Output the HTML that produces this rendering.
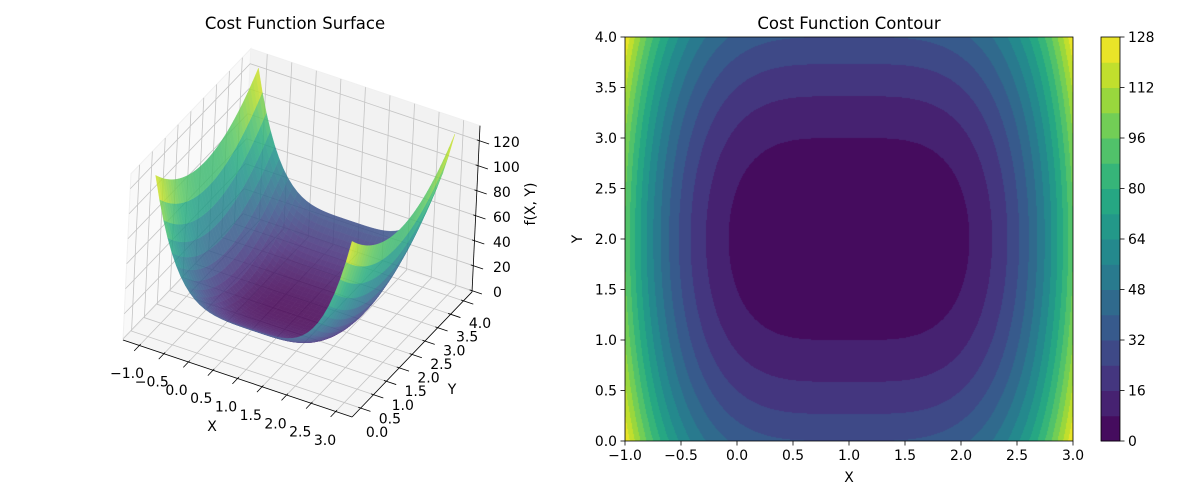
<!DOCTYPE html>
<html><head><meta charset="utf-8">
<style>
html,body{margin:0;padding:0;background:#fff;}
#root{position:relative;width:1200px;height:500px;overflow:hidden;font-family:"DejaVu Sans","Liberation Sans",sans-serif;}
svg{position:absolute;left:0;top:0;}
#contour-canvas{position:absolute;left:625px;top:37px;}
</style></head>
<body>
<div id="root">
<svg id="s3d" width="1200" height="500"></svg>
<canvas id="contour-canvas" width="448" height="404"></canvas>
<svg id="s2d" width="1200" height="500"></svg>
</div>
<script>
// ---- data ----
const xTicks=[-1.0,-0.5,0.0,0.5,1.0,1.5,2.0,2.5,3.0];
const yTicks=[0.0,0.5,1.0,1.5,2.0,2.5,3.0,3.5,4.0];
const zTicks=[0,20,40,60,80,100,120];
const cbTicks=[0,16,32,48,64,80,96,112,128];
const levels=[0,8,16,24,32,40,48,56,64,72,80,88,96,104,112,120,128];
const coefX=[6];   // weight of (x-1)^4
const coefY=[8];   // weight of (y-2)^2
const center=[1,2];
const xRange=[-1,3], yRange=[0,4];
const NS="http://www.w3.org/2000/svg";
function f(x,y){return coefX[0]*Math.pow(x-center[0],4)+coefY[0]*Math.pow(y-center[1],2);}
const VIR=[[68,1,84],[71,45,123],[59,82,139],[44,114,142],[33,145,140],[40,174,128],[94,201,98],[173,220,48],[253,231,37]];
function vir(t){t=Math.max(0,Math.min(1,t));const s=t*8;const i=Math.min(7,Math.floor(s));const r=s-i;const a=VIR[i],b=VIR[i+1];
return `rgb(${Math.round(a[0]+(b[0]-a[0])*r)},${Math.round(a[1]+(b[1]-a[1])*r)},${Math.round(a[2]+(b[2]-a[2])*r)})`;}
function el(svg,tag,attrs,name,inter){const e=document.createElementNS(NS,tag);for(const k in attrs)e.setAttribute(k,attrs[k]);


svg.appendChild(e);return e;}
function txt(svg,x,y,s,size,anchor,name,extra){const t=el(svg,'text',Object.assign({x:x,y:y,'font-size':size,'text-anchor':anchor||'middle',fill:'#000','font-family':'DejaVu Sans, Liberation Sans, sans-serif'},extra||{}),name,false);t.textContent=s;return t;}

// ---- 3D surface ----
const s3=document.getElementById('s3d');
const C=[123,340], ex=[49.1,16.5], ey=[25.7,-26.8], ez=[0.06,-1.25];
const x0=-1.333,x1=3.333,y0=-0.333,y1=4.333,z0=-1,z1=132;
function P(x,y,z){return [C[0]+(x-x0)*ex[0]+(y-y0)*ey[0]+(z-z0)*ez[0], C[1]+(x-x0)*ex[1]+(y-y0)*ey[1]+(z-z0)*ez[1]];}
function poly(pts){return pts.map(p=>p[0].toFixed(2)+','+p[1].toFixed(2)).join(' ');}
el(s3,'polygon',{points:poly([P(x0,y0,z0),P(x0,y1,z0),P(x0,y1,z1),P(x0,y0,z1)]),fill:'#f9f9f9',stroke:'#f0f0f0'},'left-pane',false);
el(s3,'polygon',{points:poly([P(x0,y1,z0),P(x1,y1,z0),P(x1,y1,z1),P(x0,y1,z1)]),fill:'#f2f2f2',stroke:'#f0f0f0'},'back-pane',false);
el(s3,'polygon',{points:poly([P(x0,y0,z0),P(x1,y0,z0),P(x1,y1,z0),P(x0,y1,z0)]),fill:'#f5f5f5',stroke:'#f0f0f0'},'floor-pane',false);
const gc='#c4c4c4';
xTicks.forEach(x=>{let a=P(x,y0,z0),b=P(x,y1,z0),c=P(x,y1,z1);
el(s3,'polyline',{points:poly([a,b,c]),fill:'none',stroke:gc,'stroke-width':0.8},'x-gridline',false);});
yTicks.forEach(y=>{let a=P(x1,y,z0),b=P(x0,y,z0),c=P(x0,y,z1);
el(s3,'polyline',{points:poly([a,b,c]),fill:'none',stroke:gc,'stroke-width':0.8},'y-gridline',false);});
zTicks.forEach(z=>{let a=P(x0,y0,z),b=P(x0,y1,z),c=P(x1,y1,z);
el(s3,'polyline',{points:poly([a,b,c]),fill:'none',stroke:gc,'stroke-width':0.8},'z-gridline',false);});
// surface faces
const N=40, faces=[];
const eye=[0.433,-0.75,0.5];
for(let i=0;i<N;i++)for(let j=0;j<N;j++){
 const xa=xRange[0]+(xRange[1]-xRange[0])*i/N, xb=xRange[0]+(xRange[1]-xRange[0])*(i+1)/N;
 const ya=yRange[0]+(yRange[1]-yRange[0])*j/N, yb=yRange[0]+(yRange[1]-yRange[0])*(j+1)/N;
 const zs=[f(xa,ya),f(xb,ya),f(xb,yb),f(xa,yb)];
 const zm=(zs[0]+zs[1]+zs[2]+zs[3])/4, xm=(xa+xb)/2, ym=(ya+yb)/2;
 const d=eye[0]*(xm-x0)/(x1-x0)+eye[1]*(ym-y0)/(y1-y0)+eye[2]*(zm-z0)/(z1-z0);
 faces.push({pts:[P(xa,ya,zs[0]),P(xb,ya,zs[1]),P(xb,yb,zs[2]),P(xa,yb,zs[3])],z:zm,d:d});}
faces.sort((a,b)=>a.d-b.d);
const g=el(s3,'g',{opacity:0.85},'surface',false);
faces.forEach(fc=>{const c=vir(fc.z/128);
const p=document.createElementNS(NS,'polygon');p.setAttribute('points',poly(fc.pts));p.setAttribute('fill',c);p.setAttribute('stroke',c);p.setAttribute('stroke-width','0.4');


g.appendChild(p);});
// axes lines
el(s3,'line',{x1:P(x0,y0,z0)[0],y1:P(x0,y0,z0)[1],x2:P(x1,y0,z0)[0],y2:P(x1,y0,z0)[1],stroke:'#000','stroke-width':0.8},'x-axis-line',false);
el(s3,'line',{x1:P(x1,y0,z0)[0],y1:P(x1,y0,z0)[1],x2:P(x1,y1,z0)[0],y2:P(x1,y1,z0)[1],stroke:'#000','stroke-width':0.8},'y-axis-line',false);
el(s3,'line',{x1:P(x1,y1,z0)[0],y1:P(x1,y1,z0)[1],x2:P(x1,y1,z1)[0],y2:P(x1,y1,z1)[1],stroke:'#000','stroke-width':0.8},'z-axis-line',false);
const xl=t=>[127+(t-xRange[0])/(xRange[1]-xRange[0])*198, 373+(t-xRange[0])/(xRange[1]-xRange[0])*67];
const yl=t=>[377+(t-yRange[0])/(yRange[1]-yRange[0])*103, 432-(t-yRange[0])/(yRange[1]-yRange[0])*109];
const zl=t=>[493, 292-t/120*150];
xTicks.forEach(x=>{const a=P(x,y0+0.05,z0),b=P(x,y0-0.2,z0);
el(s3,'line',{x1:a[0],y1:a[1],x2:b[0],y2:b[1],stroke:'#000','stroke-width':0.8},'x-tick',false);
const l=xl(x);txt(s3,l[0],l[1]+5,(x<0?'\u2212':'')+Math.abs(x).toFixed(1),14,'middle','x-tick-label');});
yTicks.forEach(y=>{const a=P(x1-0.05,y,z0),b=P(x1+0.2,y,z0);
el(s3,'line',{x1:a[0],y1:a[1],x2:b[0],y2:b[1],stroke:'#000','stroke-width':0.8},'y-tick',false);
const l=yl(y);txt(s3,l[0],l[1]+5,y.toFixed(1),14,'middle','y-tick-label');});
zTicks.forEach(z=>{const a=P(x1-0.05,y1,z),b=P(x1+0.2,y1,z);
el(s3,'line',{x1:a[0],y1:a[1],x2:b[0],y2:b[1],stroke:'#000','stroke-width':0.8},'z-tick',false);
const l=zl(z);txt(s3,l[0],l[1]+5,String(z),14,'start','z-tick-label');});
txt(s3,212,431,'X',14,'middle','x-axis-title');
txt(s3,452,394,'Y',14,'middle','y-axis-title');
txt(s3,535,204,'f(X, Y)',14,'middle','z-axis-title',{transform:'rotate(-90 535 204)'});
txt(s3,295,29,'Cost Function Surface',16.5,'middle','surface-title');

// ---- contour ----
const AX=[625,37,448,404];
const cv=document.getElementById('contour-canvas').getContext('2d');
const img=cv.createImageData(AX[2],AX[3]);
const nb=levels.length-1;
const bandCol=k=>vir((k+0.5)/nb);
const bandCols=[];for(let k=0;k<nb;k++){bandCols.push(bandCol(k).match(/\d+/g).map(Number));}
for(let py=0;py<AX[3];py++)for(let px=0;px<AX[2];px++){
 const x=xRange[0]+(px+0.5)/AX[2]*(xRange[1]-xRange[0]);const y=yRange[1]-(py+0.5)/AX[3]*(yRange[1]-yRange[0]);
 const v=f(x,y);let k=0;while(k<nb-1&&v>=levels[k+1])k++;
 const c=bandCols[k],o=(py*AX[2]+px)*4;img.data[o]=c[0];img.data[o+1]=c[1];img.data[o+2]=c[2];img.data[o+3]=255;}
cv.putImageData(img,0,0);
const s2=document.getElementById('s2d');
const sx=x=>AX[0]+(x-xRange[0])/(xRange[1]-xRange[0])*AX[2];
const sy=y=>AX[1]+AX[3]-(y-yRange[0])/(yRange[1]-yRange[0])*AX[3];
el(s2,'rect',{x:AX[0],y:AX[1],width:AX[2],height:AX[3],fill:'none',stroke:'#000','stroke-width':0.8},'contour-axes-frame',false);
xTicks.forEach(x=>{el(s2,'line',{x1:sx(x),y1:441,x2:sx(x),y2:445.5,stroke:'#000','stroke-width':0.8},'x-tick',false);
txt(s2,sx(x),460,(x<0?'\u2212':'')+Math.abs(x).toFixed(1),13.9,'middle','x-tick-label');});
yTicks.forEach(y=>{el(s2,'line',{x1:620.5,y1:sy(y),x2:625,y2:sy(y),stroke:'#000','stroke-width':0.8},'y-tick',false);
txt(s2,617,sy(y)+5,y.toFixed(1),13.9,'end','y-tick-label');});
txt(s2,849,482,'X',13.9,'middle','x-axis-title');
txt(s2,582,239,'Y',13.9,'middle','y-axis-title',{transform:'rotate(-90 582 239)'});
txt(s2,849,29,'Cost Function Contour',16.5,'middle','contour-title');
// colorbar
const CB=[1101,37,19,404];
const cby=v=>CB[1]+CB[3]-(v-levels[0])/(levels[nb]-levels[0])*CB[3];
for(let k=0;k<nb;k++){el(s2,'rect',{x:CB[0],y:cby(levels[k+1]),width:CB[2],height:cby(levels[k])-cby(levels[k+1])+0.5,fill:bandCol(k)},'colorbar-band',false);}
el(s2,'rect',{x:CB[0],y:CB[1],width:CB[2],height:CB[3],fill:'none',stroke:'#000','stroke-width':0.8},'colorbar-frame',false);
cbTicks.forEach(v=>{el(s2,'line',{x1:CB[0]+CB[2],y1:cby(v),x2:CB[0]+CB[2]+4.5,y2:cby(v),stroke:'#000','stroke-width':0.8},'colorbar-tick',false);
txt(s2,CB[0]+CB[2]+8,cby(v)+5,String(v),13.9,'start','colorbar-tick-label');});
</script>
</body></html>
